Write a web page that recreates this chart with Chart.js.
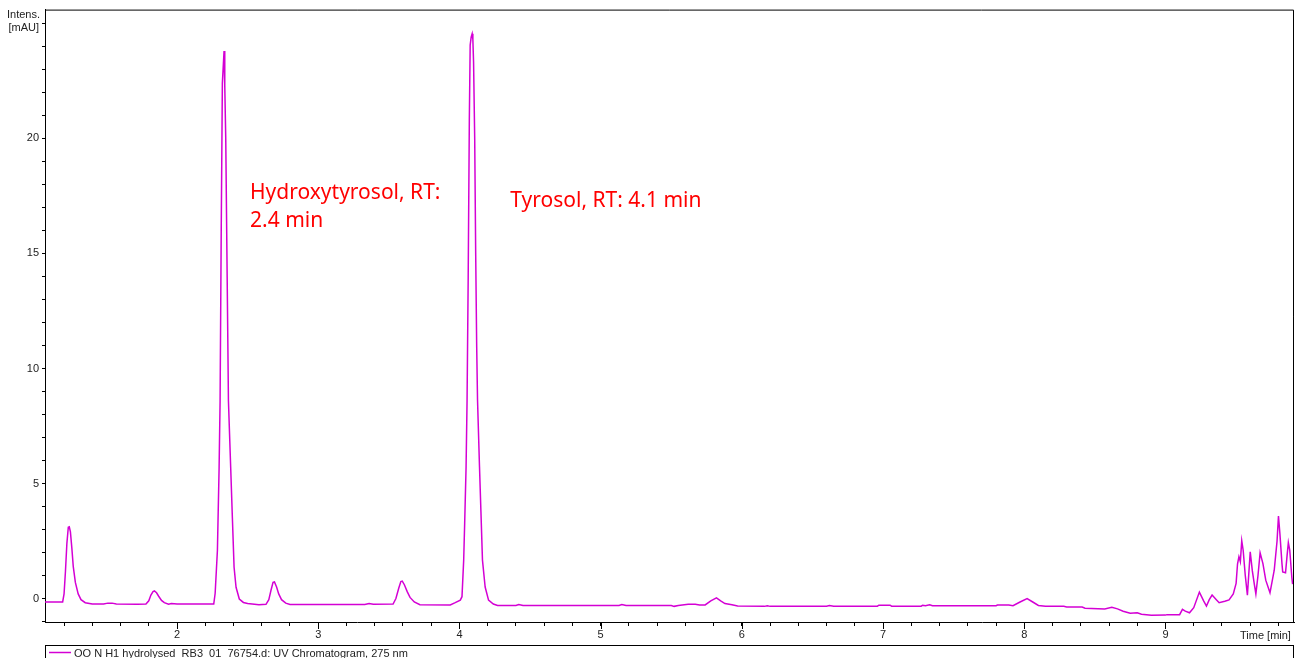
<!DOCTYPE html>
<html>
<head>
<meta charset="utf-8">
<script src="https://cdn.jsdelivr.net/npm/chart.js@4"></script>
<style>
  body { margin: 0; background: #fff; }
  #wrap { width: 1296px; height: 658px; }
</style>
</head>
<body>
<div id="wrap"><canvas id="chroma" width="1296" height="658"></canvas></div>
<script>
// retention time (min) and intensity (mAU)
const times = [
  1.065, 1.19, 1.2, 1.21, 1.22, 1.23, 1.237, 1.245, 1.255, 1.265, 1.28, 1.3, 1.32, 1.35, 1.4,
  1.48, 1.51, 1.54, 1.57, 1.72, 1.78, 1.8, 1.815, 1.83, 1.84, 1.855, 1.87, 1.89, 1.91, 1.94, 1.96, 2.0,
  2.26, 2.27, 2.286, 2.298, 2.305, 2.313, 2.321, 2.333, 2.338, 2.345, 2.355, 2.364, 2.38, 2.392,
  2.404, 2.418, 2.441, 2.47, 2.5, 2.58, 2.63, 2.65, 2.665, 2.68, 2.69, 2.705, 2.72, 2.74, 2.77, 2.8,
  3.33, 3.36, 3.39, 3.53, 3.55, 3.57, 3.585, 3.595, 3.61, 3.63, 3.65, 3.68, 3.72,
  3.935, 3.97, 4.006, 4.018, 4.03, 4.037, 4.047, 4.054,
  4.062, 4.07, 4.076, 4.083, 4.09, 4.095, 4.1, 4.108, 4.115, 4.122, 4.128, 4.142, 4.152, 4.163,
  4.182, 4.206, 4.24, 4.27, 4.4, 4.42,
  4.45, 5.13, 5.15, 5.18, 5.5, 5.52, 5.55, 5.62, 5.67, 5.7, 5.74, 5.78, 5.82, 5.85, 5.88, 5.93,
  5.97, 6.16, 6.18, 6.2, 6.6, 6.62, 6.65, 6.96, 6.97, 7.05, 7.06, 7.27, 7.28, 7.3, 7.33, 7.35,
  7.42, 7.8, 7.81, 7.89, 7.92, 7.97, 8.02, 8.06, 8.1, 8.15, 8.28, 8.3, 8.41, 8.43, 8.57, 8.62,
  8.66, 8.7, 8.75, 8.8, 8.83, 8.9, 9.0, 9.01, 9.1, 9.12, 9.14, 9.17, 9.2, 9.24, 9.27, 9.29,
  9.31, 9.33, 9.36, 9.38, 9.42, 9.45, 9.48, 9.5, 9.51, 9.52, 9.53, 9.54, 9.55, 9.565, 9.58,
  9.6, 9.615, 9.63, 9.64, 9.655, 9.67, 9.69, 9.71, 9.74, 9.77, 9.79, 9.8, 9.81, 9.825, 9.83,
  9.85, 9.86, 9.87, 9.88, 9.895, 9.9
];
const intens = [
  -0.15, -0.15, 0.2, 1.2, 2.4, 3.1, 3.12, 2.9, 2.2, 1.4, 0.7, 0.2, -0.05, -0.18, -0.24,
  -0.24, -0.2, -0.2, -0.24, -0.25, -0.24, -0.1, 0.15, 0.3, 0.33, 0.25, 0.1, -0.08, -0.18, -0.25, -0.22, -0.24,
  -0.24, 0.23, 2.1, 5.7, 8.6, 16, 22.4, 23.8, 22.3, 20, 14, 8.6, 5.7, 3.5,
  1.36, 0.49, -0.02, -0.17, -0.22, -0.27, -0.25, -0.05, 0.35, 0.7, 0.72, 0.5, 0.2, -0.05, -0.2, -0.26,
  -0.26, -0.22, -0.25, -0.24, 0.0, 0.45, 0.74, 0.76, 0.6, 0.3, 0.05, -0.15, -0.27,
  -0.28, -0.18, -0.07, 0.08, 1.67, 3.27, 5.73, 8.63,
  14, 20.8, 24.06, 24.4, 24.55, 24.3, 23.3, 20, 15, 11, 8.63, 5.73, 3.8, 1.67,
  0.5, -0.07, -0.24, -0.3, -0.3, -0.26,
  -0.3, -0.3, -0.26, -0.3, -0.3, -0.34, -0.3, -0.25, -0.25, -0.28, -0.28, -0.1, 0.03, -0.1, -0.22, -0.27,
  -0.32, -0.34, -0.31, -0.34, -0.33, -0.3, -0.33, -0.33, -0.29, -0.29, -0.33, -0.33, -0.29, -0.31, -0.27, -0.31,
  -0.31, -0.31, -0.28, -0.28, -0.31, -0.15, 0.0, -0.15, -0.3, -0.34, -0.34, -0.37, -0.37, -0.42, -0.45, -0.38,
  -0.45, -0.55, -0.64, -0.62, -0.68, -0.73, -0.72, -0.7, -0.7, -0.47, -0.55, -0.62, -0.4, 0.28, -0.1, -0.33,
  -0.05, 0.15, -0.05, -0.18, -0.12, -0.06, 0.2, 0.66, 1.5, 1.82, 1.6, 2.51, 2.1, 1.0, 0.15,
  2.03, 1.2, 0.58, 0.2, 1.0, 1.99, 1.52, 0.8, 0.25, 1.23, 2.5, 3.59, 2.83, 1.5, 1.16,
  1.12, 1.8, 2.43, 2.1, 0.9, 0.63
];
const xLabels = [2, 3, 4, 5, 6, 7, 8, 9];
const yLabels = [0, 5, 10, 15, 20];
const seriesName = "OO N H1 hydrolysed_RB3_01_76754.d: UV Chromatogram, 275 nm";
const peakNotes = [
  { lines: ["Hydroxytyrosol, RT:", "2.4 min"], t: 2.517, v: 17.35 },
  { lines: ["Tyrosol, RT: 4.1 min"], t: 4.36, v: 17.03 }
];

const traceColor = "#d400d4";
const tickFont = { family: "Liberation Sans, Arial, sans-serif", size: 11 };

const frame = {
  id: "frame",
  afterDraw(chart) {
    const ctx = chart.ctx;
    const a = chart.chartArea;
    const xs = chart.scales.x, ys = chart.scales.y;
    ctx.save();
    ctx.strokeStyle = "#000";
    ctx.lineWidth = 1;
    ctx.beginPath();
    ctx.moveTo(a.left, a.top + 0.5);
    ctx.lineTo(a.right - 0.5, a.top + 0.5);
    ctx.lineTo(a.right - 0.5, a.bottom);
    // longer ticks at whole minutes
    xLabels.forEach(v => {
      const px = Math.round(xs.getPixelForValue(v)) + 0.5;
      ctx.moveTo(px, a.bottom);
      ctx.lineTo(px, a.bottom + 7);
    });
    ctx.stroke();

    ctx.fillStyle = "#222";
    ctx.font = "11px Liberation Sans, Arial, sans-serif";
    ctx.textAlign = "right";
    ctx.textBaseline = "alphabetic";
    ctx.fillText("Intens.", 40, 18);
    ctx.fillText("[mAU]", 39, 31);
    ctx.textAlign = "left";
    ctx.fillText("Time [min]", 1240, 639);

    // peak annotations, sized so the first line spans about 190px
    ctx.font = "20px Noto Sans, sans-serif";
    const w = ctx.measureText(peakNotes[0].lines[0]).width;
    const size = (20 * 190 / w).toFixed(1);
    ctx.font = size + "px Noto Sans, sans-serif";
    ctx.fillStyle = "#ff0000";
    peakNotes.forEach(n => {
      const px = xs.getPixelForValue(n.t);
      const py = ys.getPixelForValue(n.v);
      n.lines.forEach((s, i) => ctx.fillText(s, px, py + i * 28));
    });

    // legend strip
    ctx.strokeStyle = "#000";
    ctx.strokeRect(a.left + 0.5, 645.5, a.right - a.left - 1, 20);
    ctx.strokeStyle = traceColor;
    ctx.lineWidth = 1.5;
    ctx.beginPath();
    ctx.moveTo(49, 652.5);
    ctx.lineTo(71, 652.5);
    ctx.stroke();
    ctx.fillStyle = "#222";
    ctx.font = "11px Liberation Sans, Arial, sans-serif";
    ctx.fillText(seriesName, 74, 657);
    ctx.restore();
  }
};

new Chart(document.getElementById("chroma"), {
  type: "line",
  data: {
    datasets: [{
      label: seriesName,
      data: times.map((t, i) => ({ x: t, y: intens[i] })),
      borderColor: traceColor,
      borderWidth: 1.5,
      pointRadius: 0,
      tension: 0,
      fill: false
    }]
  },
  options: {
    responsive: false,
    animation: false,
    events: [],
    layout: { padding: { top: 9, right: 2, bottom: 14, left: 0 } },
    plugins: { legend: { display: false }, tooltip: { enabled: false } },
    scales: {
      x: {
        type: "linear",
        min: 1.065,
        max: 9.91,
        afterFit(s) { s.height = 22; },
        afterBuildTicks(s) {
          const t = [];
          for (let k = 6; k <= 49; k++) t.push({ value: k / 5 });
          s.ticks = t;
        },
        ticks: {
          autoSkip: false,
          maxRotation: 0,
          padding: 2,
          color: "#222",
          font: tickFont,
          callback: v => (xLabels.includes(Math.round(v * 5) / 5) ? String(Math.round(v)) : "")
        },
        grid: { drawOnChartArea: false, drawTicks: true, tickLength: 4, color: "#000" },
        border: { display: true, color: "#000", width: 1 }
      },
      y: {
        type: "linear",
        min: -1.02,
        max: 25.6,
        afterFit(s) { s.width = 45; },
        afterBuildTicks(s) {
          const t = [];
          for (let k = -1; k <= 25; k++) t.push({ value: k });
          s.ticks = t;
        },
        ticks: {
          autoSkip: false,
          padding: 3,
          color: "#222",
          font: tickFont,
          callback: v => (yLabels.includes(v) ? String(v) : "")
        },
        grid: { drawOnChartArea: false, drawTicks: true, tickLength: 3, color: "#000" },
        border: { display: true, color: "#000", width: 1 }
      }
    }
  },
  plugins: [frame]
});
</script>
</body>
</html>
